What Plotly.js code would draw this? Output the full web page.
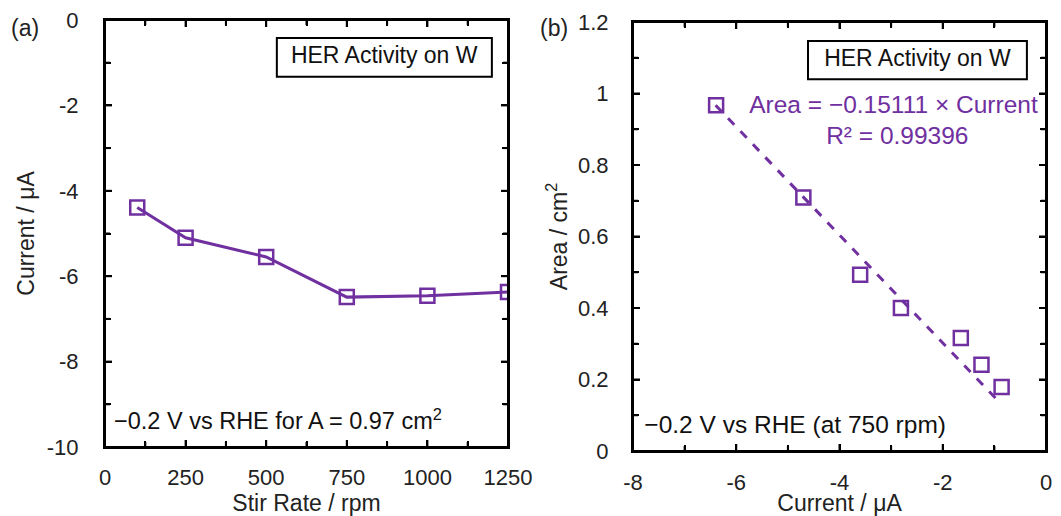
<!DOCTYPE html>
<html><head><meta charset="utf-8">
<script src="https://cdn.plot.ly/plotly-3.0.1.min.js"></script>
<style>body{margin:0;background:#fff}#c{width:1061px;height:516px}</style>
</head><body><div id="c"></div>
<script>
// Panel (a): current vs stir rate
const stirRate = [100, 250, 500, 750, 1000, 1250];
const currentA = [-4.39, -5.10, -5.55, -6.49, -6.46, -6.37];
// Panel (b): area vs current
const currentB = [-6.39, -4.70, -3.60, -2.81, -1.65, -1.25, -0.86];
const areaB = [0.967, 0.709, 0.493, 0.400, 0.316, 0.241, 0.179];
// Linear fit line (Area = -0.15111 x Current) endpoints
const fitX = [-6.40, -0.92];
const fitY = [0.967, 0.139];
// Tick labels (hyphen-minus as in the reference)
const ticksA_x = [0, 250, 500, 750, 1000, 1250];
const minorA_x = [125, 375, 625, 875, 1125];
const ticksA_y = [0, -2, -4, -6, -8, -10];
const minorA_y = [-1, -3, -5, -7, -9];
const ticksA_ytext = ['0', '-2', '-4', '-6', '-8', '-10'];
const ticksB_x = [-8, -6, -4, -2, 0];
const minorB_x = [-7, -5, -3, -1];
const ticksB_xtext = ['-8', '-6', '-4', '-2', '0'];
const ticksB_y = [0, 0.2, 0.4, 0.6, 0.8, 1, 1.2];
const minorB_y = [0.1, 0.3, 0.5, 0.7, 0.9, 1.1];
const ticksB_ytext = ['0', '0.2', '0.4', '0.6', '0.8', '1', '1.2'];

const purple = '#7030A0';
const font = 'Liberation Sans, Arial, sans-serif';
const tickFont = {family: font, size: 22, color: '#222'};
const titleFont = {family: font, size: 23, color: '#222'};

function label(xa, ya, x, y, text, pos, size, color) {
  return {x: [x], y: [y], xaxis: xa, yaxis: ya, mode: 'text', text: [text], textposition: pos,
    cliponaxis: false, hoverinfo: 'skip', showlegend: false,
    textfont: {family: font, size: size, color: color}};
}

const traces = [
  {x: stirRate, y: currentA, xaxis: 'x', yaxis: 'y', mode: 'lines+markers',
   line: {color: purple, width: 3},
   marker: {symbol: 'square-open', size: 14, color: purple, line: {width: 2.5, color: purple}}},
  {x: fitX, y: fitY, xaxis: 'x2', yaxis: 'y2', mode: 'lines',
   line: {color: purple, width: 3, dash: 'dash'}},
  {x: currentB, y: areaB, xaxis: 'x2', yaxis: 'y2', mode: 'markers',
   marker: {symbol: 'square-open', size: 14, color: purple, line: {width: 2.5, color: purple}}},
  label('x', 'y', 866, -0.875, 'HER Activity on W', 'middle center', 23, '#111'),
  label('x2', 'y2', -2.49, 1.093, 'HER Activity on W', 'middle center', 23, '#111'),
  label('x', 'y', 28, -9.45, '−0.2 V vs RHE for A = 0.97 cm<sup>2</sup>', 'middle right', 23.5, '#111'),
  label('x2', 'y2', -7.78, 0.068, '−0.2 V vs RHE (at 750 rpm)', 'middle right', 24.5, '#111'),
  label('x2', 'y2', -0.16, 0.962, 'Area = −0.15111 × Current', 'middle left', 24.5, purple),
  label('x2', 'y2', -2.88, 0.876, 'R² = 0.99396', 'middle center', 24.5, purple)
];

function ax(o, minorDtick) {
  return Object.assign({
    showline: true, linecolor: '#000', linewidth: 2, mirror: 'allticks',
    ticks: 'inside', ticklen: 7, tickwidth: 2, tickcolor: '#000',
    showgrid: false, zeroline: false, tickfont: tickFont, tickmode: 'array',
    minor: {ticks: 'inside', ticklen: 6, tickwidth: 2, tickcolor: '#000', dtick: minorDtick, showgrid: false}
  }, o);
}

const frame = (xr, yr) => ({type: 'rect', xref: xr, yref: yr, x0: 0, x1: 1, y0: 0, y1: 1,
  line: {color: '#000', width: 2}, fillcolor: 'rgba(0,0,0,0)', layer: 'above'});

// inside tick marks on all four sides, placed through the axes' own scales
function tickShapes(xa, ya, xvals, yvals, len, wPx, hPx) {
  const out = [];
  const fx = len / wPx, fy = len / hPx;
  const st = {line: {color: '#000', width: 2}, layer: 'above'};
  xvals.forEach(v => {
    out.push(Object.assign({type: 'line', xref: xa, yref: ya + ' domain', x0: v, x1: v, y0: 0, y1: fy}, st));
    out.push(Object.assign({type: 'line', xref: xa, yref: ya + ' domain', x0: v, x1: v, y0: 1 - fy, y1: 1}, st));
  });
  yvals.forEach(v => {
    out.push(Object.assign({type: 'line', xref: xa + ' domain', yref: ya, y0: v, y1: v, x0: 0, x1: fx}, st));
    out.push(Object.assign({type: 'line', xref: xa + ' domain', yref: ya, y0: v, y1: v, x0: 1 - fx, x1: 1}, st));
  });
  return out;
}

const shapes = [
  frame('x domain', 'y domain'),
  frame('x2 domain', 'y2 domain'),
  {type: 'rect', xref: 'x', yref: 'y', x0: 533, x1: 1200, y0: -0.42, y1: -1.33,
   line: {color: '#000', width: 2}, fillcolor: 'rgba(0,0,0,0)', layer: 'above'},
  {type: 'rect', xref: 'x2', yref: 'y2', x0: -4.61, x1: -0.37, y0: 1.147, y1: 1.040,
   line: {color: '#000', width: 2}, fillcolor: 'rgba(0,0,0,0)', layer: 'above'}
].concat(
  tickShapes('x', 'y', ticksA_x, ticksA_y, 7, 403, 427),
  tickShapes('x', 'y', minorA_x, minorA_y, 5, 403, 427),
  tickShapes('x2', 'y2', ticksB_x, ticksB_y, 7, 413, 429),
  tickShapes('x2', 'y2', minorB_x, minorB_y, 5, 413, 429)
);

const layout = {
  width: 1061, height: 516, showlegend: false,
  margin: {l: 0, r: 0, t: 0, b: 0},
  xaxis: ax({domain: [105/1061, 508/1061], range: [0, 1250], tickvals: ticksA_x,
    anchor: 'y', ticklabelstandoff: 10,
    title: {text: 'Stir Rate / rpm', font: titleFont, standoff: 9}}, 125),
  yaxis: ax({domain: [1 - 447/516, 1 - 20/516], range: [-10, 0], tickvals: ticksA_y, ticktext: ticksA_ytext,
    anchor: 'x', ticklabelstandoff: 20,
    title: {text: 'Current / μA', font: titleFont, standoff: 6}}, 1),
  xaxis2: ax({domain: [633/1061, 1046/1061], range: [-8, 0], tickvals: ticksB_x, ticktext: ticksB_xtext,
    anchor: 'y2', ticklabelstandoff: 11,
    title: {text: 'Current / μA', font: titleFont, standoff: 9}}, 1),
  yaxis2: ax({domain: [1 - 451/516, 1 - 22/516], range: [0, 1.2], tickvals: ticksB_y, ticktext: ticksB_ytext,
    anchor: 'x2', ticklabelstandoff: 18,
    title: {text: 'Area / cm<sup>2</sup>', font: titleFont, standoff: 4}}, 0.1),
  shapes: shapes,
  annotations: [
    {text: '(a)', xref: 'paper', yref: 'paper', x: 9/1061, y: 1 - 28/516, xanchor: 'left', yanchor: 'middle', showarrow: false, font: {family: font, size: 23, color: '#222'}},
    {text: '(b)', xref: 'paper', yref: 'paper', x: 538/1061, y: 1 - 28/516, xanchor: 'left', yanchor: 'middle', showarrow: false, font: {family: font, size: 23, color: '#222'}}
  ]
};

Plotly.newPlot('c', traces, layout, {displayModeBar: false});
</script></body></html>
